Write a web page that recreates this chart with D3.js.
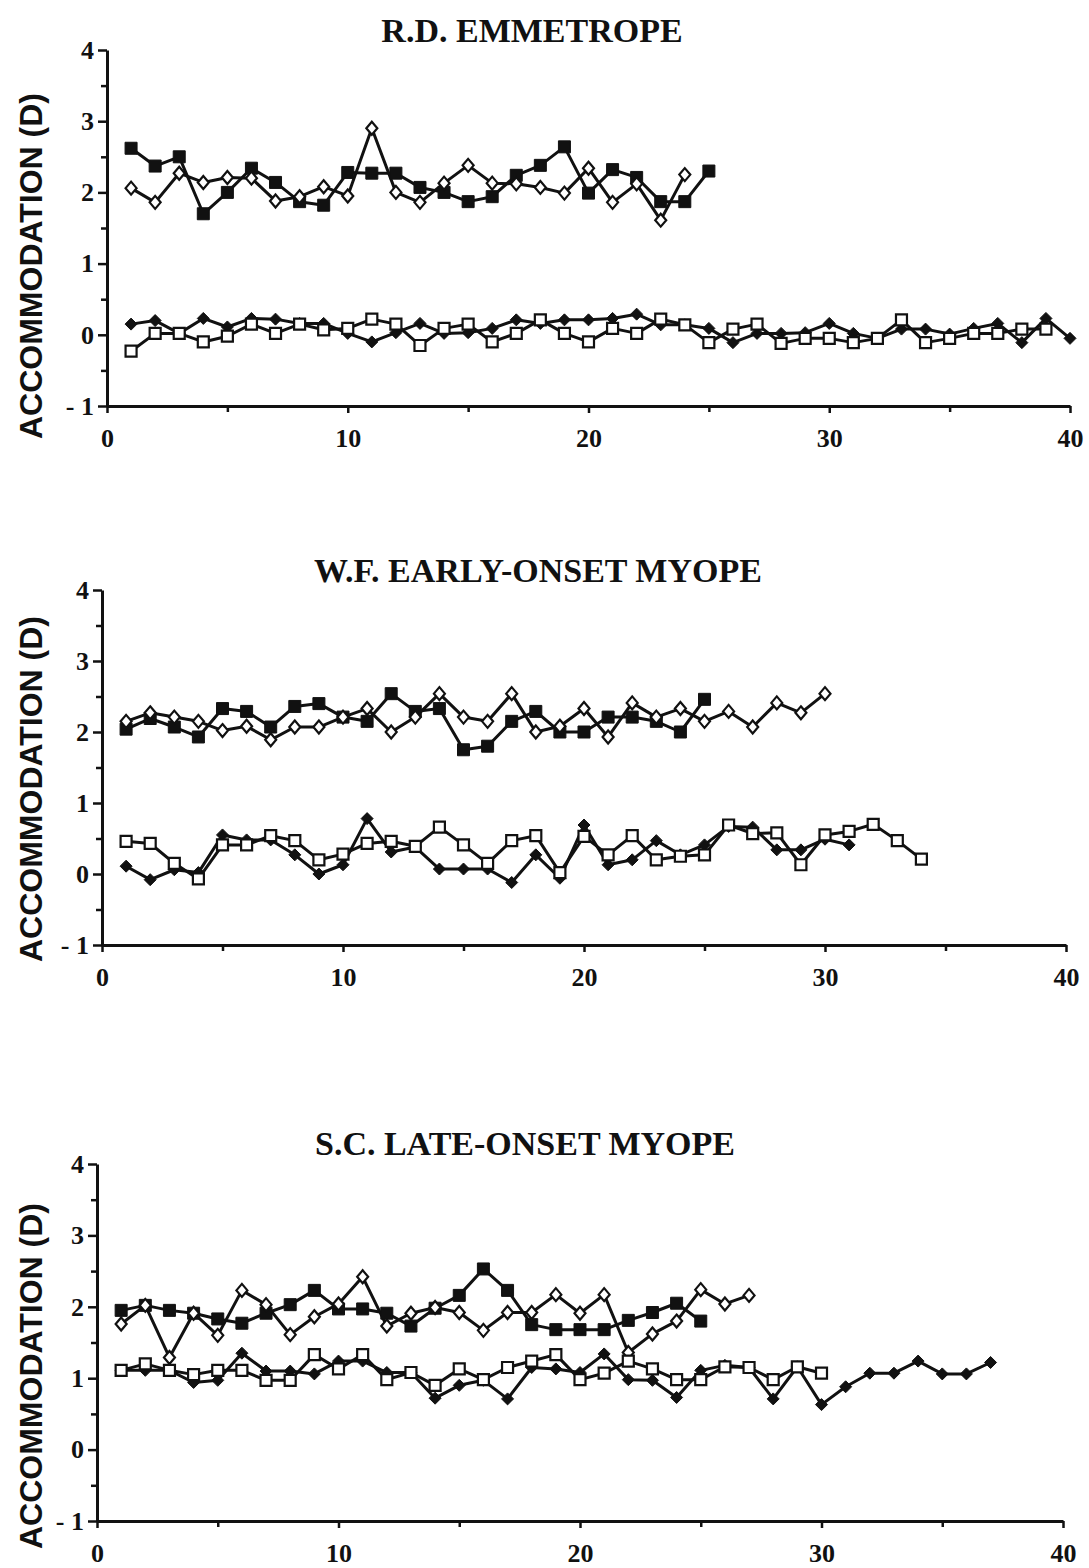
<!DOCTYPE html>
<html>
<head>
<meta charset="utf-8">
<script src="https://cdn.jsdelivr.net/npm/d3@7"></script>
<style>
  body { margin: 0; background: #fff; }
  svg { display: block; }
</style>
</head>
<body>
<svg id="chart"></svg>
<script>
// trial numbers run 1..n for each series
const yTicks = [-1, 0, 1, 2, 3, 4];
const yMinorTicks = [-0.5, 0.5, 1.5, 2.5, 3.5];
const xTicks = [0, 10, 20, 30, 40];
const xMinorTicks = [5, 15, 25, 35];

// R.D. emmetrope
const rdFilledSquare = [2.62, 2.37, 2.50, 1.70, 2.00, 2.34, 2.14, 1.87, 1.82, 2.28, 2.27, 2.27, 2.07, 2.00, 1.87, 1.94, 2.24, 2.38, 2.64, 1.99, 2.32, 2.21, 1.87, 1.87, 2.30];
const rdOpenDiamond = [2.06, 1.86, 2.27, 2.14, 2.21, 2.20, 1.88, 1.94, 2.08, 1.95, 2.90, 2.00, 1.86, 2.13, 2.38, 2.13, 2.12, 2.07, 1.99, 2.34, 1.86, 2.12, 1.61, 2.25];
const rdFilledDiamond = [0.15, 0.20, 0.02, 0.23, 0.11, 0.23, 0.22, 0.16, 0.16, 0.02, -0.10, 0.03, 0.16, 0.02, 0.03, 0.09, 0.21, 0.16, 0.21, 0.21, 0.23, 0.29, 0.14, 0.14, 0.09, -0.11, 0.02, 0.02, 0.03, 0.16, 0.02, -0.05, 0.08, 0.08, 0.01, 0.09, 0.16, -0.11, 0.23, -0.05];
const rdOpenSquare = [-0.23, 0.02, 0.02, -0.10, -0.02, 0.15, 0.02, 0.15, 0.07, 0.09, 0.22, 0.15, -0.15, 0.09, 0.15, -0.10, 0.02, 0.21, 0.02, -0.10, 0.09, 0.02, 0.22, 0.14, -0.11, 0.08, 0.15, -0.12, -0.05, -0.05, -0.11, -0.05, 0.21, -0.11, -0.05, 0.02, 0.02, 0.08, 0.08];

// W.F. early-onset myope
const wfFilledSquare = [2.04, 2.19, 2.07, 1.93, 2.33, 2.29, 2.07, 2.36, 2.40, 2.21, 2.15, 2.54, 2.29, 2.33, 1.75, 1.80, 2.15, 2.29, 2.00, 2.00, 2.21, 2.21, 2.15, 2.00, 2.46];
const wfOpenDiamond = [2.15, 2.27, 2.21, 2.15, 2.02, 2.08, 1.89, 2.07, 2.07, 2.21, 2.33, 2.00, 2.21, 2.54, 2.21, 2.15, 2.54, 2.00, 2.08, 2.33, 1.93, 2.41, 2.21, 2.33, 2.15, 2.29, 2.07, 2.41, 2.27, 2.54];
const wfFilledDiamond = [0.11, -0.08, 0.06, 0.02, 0.55, 0.48, 0.48, 0.27, 0.00, 0.13, 0.78, 0.31, 0.38, 0.07, 0.07, 0.07, -0.12, 0.27, -0.06, 0.69, 0.13, 0.20, 0.47, 0.27, 0.41, 0.67, 0.66, 0.34, 0.34, 0.49, 0.41];
const wfOpenSquare = [0.46, 0.43, 0.15, -0.07, 0.41, 0.41, 0.54, 0.47, 0.20, 0.28, 0.43, 0.46, 0.39, 0.66, 0.41, 0.15, 0.47, 0.54, 0.02, 0.53, 0.27, 0.54, 0.20, 0.25, 0.27, 0.69, 0.57, 0.58, 0.13, 0.55, 0.60, 0.70, 0.47, 0.21];

// S.C. late-onset myope
const scFilledSquare = [1.95, 2.02, 1.95, 1.91, 1.83, 1.77, 1.91, 2.03, 2.23, 1.97, 1.97, 1.91, 1.73, 1.98, 2.16, 2.53, 2.23, 1.75, 1.68, 1.68, 1.68, 1.81, 1.92, 2.05, 1.80];
const scOpenDiamond = [1.76, 2.02, 1.29, 1.91, 1.60, 2.23, 2.03, 1.61, 1.86, 2.04, 2.42, 1.73, 1.91, 1.99, 1.92, 1.67, 1.92, 1.92, 2.17, 1.91, 2.17, 1.36, 1.62, 1.80, 2.24, 2.04, 2.16];
const scFilledDiamond = [1.11, 1.11, 1.11, 0.94, 0.97, 1.35, 1.10, 1.10, 1.06, 1.24, 1.24, 1.08, 1.08, 0.72, 0.90, 0.97, 0.71, 1.15, 1.13, 1.08, 1.34, 0.98, 0.97, 0.73, 1.11, 1.18, 1.15, 0.71, 1.16, 0.63, 0.88, 1.07, 1.07, 1.24, 1.06, 1.06, 1.22];
const scOpenSquare = [1.11, 1.20, 1.11, 1.05, 1.11, 1.11, 0.97, 0.97, 1.33, 1.13, 1.33, 0.98, 1.08, 0.90, 1.13, 0.98, 1.15, 1.24, 1.33, 0.98, 1.07, 1.24, 1.13, 0.98, 0.98, 1.16, 1.15, 0.98, 1.16, 1.07];

const width = 1089;
const height = 1568;

const svg = d3.select("#chart")
    .attr("width", width)
    .attr("height", height)
    .style("background", "#fff");

// marker shapes
const markers = {
    filledSquare: { d: "M-6,-6H6V6H-6Z", fill: "#111", stroke: "#111", sw: 1 },
    openSquare: { d: "M-5.5,-5.5H5.5V5.5H-5.5Z", fill: "#fff", stroke: "#111", sw: 2.2 },
    filledDiamond: { d: "M0,-6L6,0L0,6L-6,0Z", fill: "#111", stroke: "#111", sw: 1 },
    openDiamond: { d: "M0,-6.5L5.5,0L0,6.5L-5.5,0Z", fill: "#fff", stroke: "#111", sw: 2.2 }
};

const panels = [
    {
        title: "R.D. EMMETROPE",
        series: [
            { values: rdFilledSquare, marker: "filledSquare" },
            { values: rdOpenDiamond, marker: "openDiamond" },
            { values: rdFilledDiamond, marker: "filledDiamond" },
            { values: rdOpenSquare, marker: "openSquare" }
        ],
        left: 107, right: 1070, top: 50, bottom: 406,
        titleX: 532, titleY: 42, labelY: 266
    },
    {
        title: "W.F. EARLY-ONSET MYOPE",
        series: [
            { values: wfFilledSquare, marker: "filledSquare" },
            { values: wfOpenDiamond, marker: "openDiamond" },
            { values: wfFilledDiamond, marker: "filledDiamond" },
            { values: wfOpenSquare, marker: "openSquare" }
        ],
        left: 102, right: 1066, top: 590, bottom: 945,
        titleX: 538, titleY: 582, labelY: 789
    },
    {
        title: "S.C. LATE-ONSET MYOPE",
        series: [
            { values: scFilledSquare, marker: "filledSquare" },
            { values: scOpenDiamond, marker: "openDiamond" },
            { values: scFilledDiamond, marker: "filledDiamond" },
            { values: scOpenSquare, marker: "openSquare" }
        ],
        left: 97, right: 1063, top: 1164, bottom: 1521,
        titleX: 525, titleY: 1155, labelY: 1376
    }
];

const tickText = d => d < 0 ? "- " + Math.abs(d) : String(d);

panels.forEach(p => {
    const x = d3.scaleLinear().domain([0, 40]).range([p.left, p.right]);
    const y = d3.scaleLinear().domain([-1, 4]).range([p.bottom, p.top]);

    const g = svg.append("g");

    // title
    g.append("text")
        .attr("x", p.titleX)
        .attr("y", p.titleY)
        .attr("text-anchor", "middle")
        .style("font-family", "'Liberation Serif', 'Times New Roman', serif")
        .style("font-weight", "bold")
        .style("font-size", "34px")
        .style("fill", "#111")
        .text(p.title);

    // y axis label
    g.append("text")
        .attr("transform", `translate(42, ${p.labelY}) rotate(-90)`)
        .attr("text-anchor", "middle")
        .style("font-family", "'Liberation Sans', Arial, sans-serif")
        .style("font-weight", "bold")
        .style("font-size", "32px")
        .style("fill", "#111")
        .text("ACCOMMODATION (D)");

    // minor ticks
    g.append("g")
        .attr("transform", `translate(${p.left},0)`)
        .call(d3.axisLeft(y).tickValues(yMinorTicks).tickSize(6).tickFormat(""))
        .call(a => a.select(".domain").remove())
        .call(a => a.selectAll("line").attr("stroke", "#111").attr("stroke-width", 2.5));

    g.append("g")
        .attr("transform", `translate(0,${p.bottom})`)
        .call(d3.axisBottom(x).tickValues(xMinorTicks).tickSize(6).tickFormat(""))
        .call(a => a.select(".domain").remove())
        .call(a => a.selectAll("line").attr("stroke", "#111").attr("stroke-width", 2.5));

    // major axes
    const yAxis = g.append("g")
        .attr("transform", `translate(${p.left},0)`)
        .call(d3.axisLeft(y).tickValues(yTicks).tickFormat(tickText)
            .tickSize(9).tickSizeOuter(0).tickPadding(4));

    const xAxis = g.append("g")
        .attr("transform", `translate(0,${p.bottom})`)
        .call(d3.axisBottom(x).tickValues(xTicks).tickFormat(tickText)
            .tickSize(7).tickSizeOuter(0).tickPadding(16));

    [yAxis, xAxis].forEach(a => {
        a.select(".domain").attr("stroke", "#111").attr("stroke-width", 3);
        a.selectAll("line").attr("stroke", "#111").attr("stroke-width", 2.5);
        a.selectAll("text")
            .style("font-family", "'Liberation Serif', 'Times New Roman', serif")
            .style("font-weight", "bold")
            .style("font-size", "26px")
            .style("fill", "#111");
    });

    const line = d3.line()
        .x((d, i) => x(i + 1))
        .y(d => y(d));

    // lines
    p.series.forEach(s => {
        g.append("path")
            .datum(s.values)
            .attr("d", line)
            .attr("fill", "none")
            .attr("stroke", "#111")
            .attr("stroke-width", 3)
            .attr("stroke-linejoin", "round");
    });

    // markers
    p.series.forEach(s => {
        const m = markers[s.marker];
        g.selectAll(null)
            .data(s.values)
            .enter()
            .append("path")
            .attr("transform", (d, i) => `translate(${x(i + 1)},${y(d)})`)
            .attr("d", m.d)
            .attr("fill", m.fill)
            .attr("stroke", m.stroke)
            .attr("stroke-width", m.sw);
    });
});
</script>
</body>
</html>
